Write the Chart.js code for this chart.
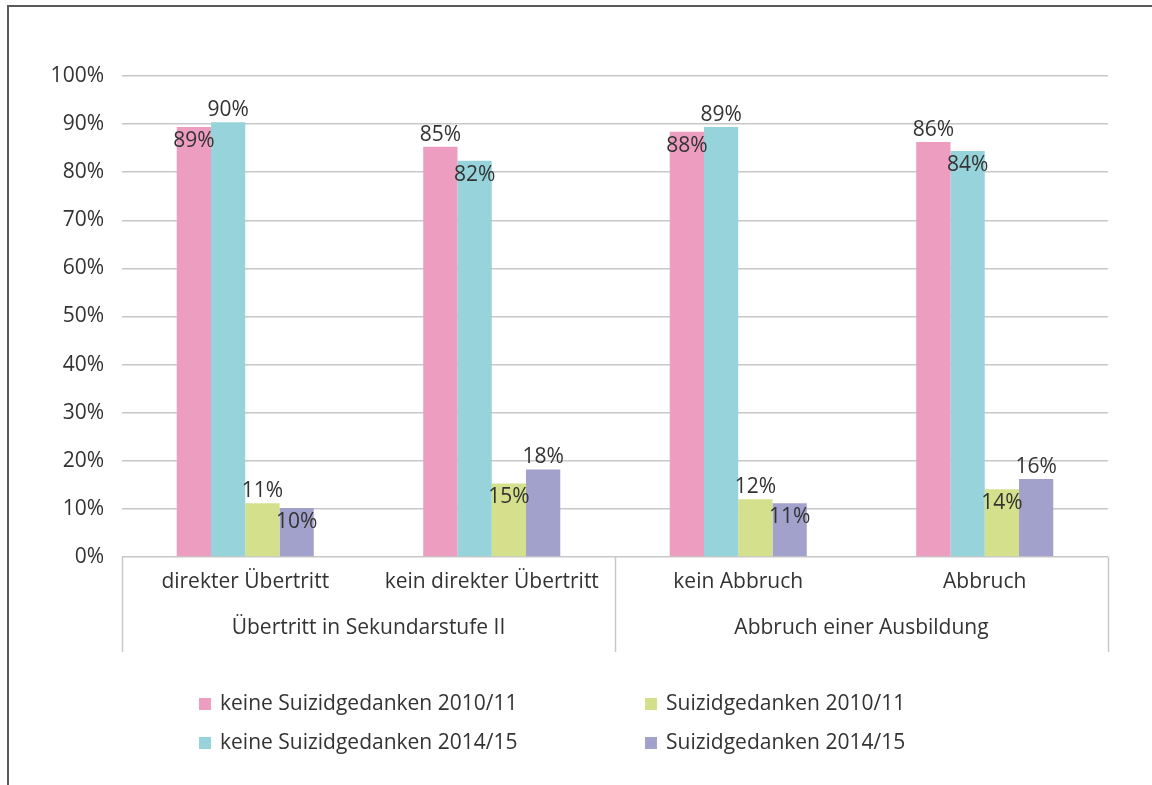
<!DOCTYPE html>
<html lang="de">
<head>
<meta charset="utf-8">
<title>Suizidgedanken nach Übertritt und Abbruch</title>
<script src="https://cdn.jsdelivr.net/npm/chart.js@4.4.1/dist/chart.umd.min.js"></script>
<style>
	html, body { margin: 0; padding: 0; background: #fff; }
	.chart-wrap { position: relative; width: 1152px; height: 785px; }
</style>
</head>
<body>
<div class="chart-wrap"><canvas id="suizid-chart"></canvas></div>
<script>
(function () {
	'use strict';

	const categories = ['direkter Übertritt', 'kein direkter Übertritt', 'kein Abbruch', 'Abbruch'];
	const categoryGroup = [0, 0, 1, 1];
	const groupLabels = ['Übertritt in Sekundarstufe II', 'Abbruch einer Ausbildung'];

	const seriesLabels = [
		'keine Suizidgedanken 2010/11',
		'keine Suizidgedanken 2014/15',
		'Suizidgedanken 2010/11',
		'Suizidgedanken 2014/15'
	];
	const keineSuizid201011 = [89.4, 85.3, 88.4, 86.3];
	const keineSuizid201415 = [90.4, 82.4, 89.4, 84.4];
	const suizid201011 = [11.2, 15.3, 12.0, 14.1];
	const suizid201415 = [10.2, 18.2, 11.2, 16.2];

	const yTicks = [0, 10, 20, 30, 40, 50, 60, 70, 80, 90, 100];

	const colors = ['#ec9dc0', '#96d3da', '#d4e08c', '#a2a1cb'];
	const textColor = '#333333';
	const gridColor = '#c8c8c8';
	const fontFamily = '"Open Sans", "Noto Sans", sans-serif';
	const fontSize = 21;

	// labels sit inside the bar top when its partner bar (same pair) is taller
	const labelPlugin = {
		id: 'barLabels',
		afterDatasetsDraw: function (chart) {
			const ctx = chart.ctx;
			const sets = chart.data.datasets;

			ctx.save();
			ctx.font = fontSize + 'px ' + fontFamily;
			ctx.fillStyle = textColor;
			ctx.textAlign = 'center';
			ctx.textBaseline = 'middle';

			sets.forEach(function (set, i) {
				const meta = chart.getDatasetMeta(i);
				const partner = sets[i % 2 === 0 ? i + 1 : i - 1];

				meta.data.forEach(function (bar, j) {
					const value = set.data[j];
					const inside = partner.data[j] > value;
					const y = inside ? bar.y + 14 : bar.y - 12;
					ctx.fillText(Math.round(value) + '%', bar.x, y);
				});
			});

			ctx.restore();
		}
	};

	const decorPlugin = {
		id: 'decor',
		afterDraw: function (chart) {
			const ctx = chart.ctx;
			const xScale = chart.scales.x;
			const top = xScale.top;
			const bottom = 652;

			ctx.save();

			// group separators
			const bounds = [xScale.left];
			for (let i = 1; i < categories.length; i++) {
				if (categoryGroup[i] !== categoryGroup[i - 1]) {
					bounds.push((xScale.getPixelForValue(i - 1) + xScale.getPixelForValue(i)) / 2);
				}
			}
			bounds.push(xScale.right);

			ctx.strokeStyle = gridColor;
			ctx.lineWidth = 1.5;
			bounds.forEach(function (x) {
				ctx.beginPath();
				ctx.moveTo(Math.round(x) + 0.5, top);
				ctx.lineTo(Math.round(x) + 0.5, bottom);
				ctx.stroke();
			});

			// group labels
			ctx.font = fontSize + 'px ' + fontFamily;
			ctx.fillStyle = textColor;
			ctx.textAlign = 'center';
			ctx.textBaseline = 'middle';
			groupLabels.forEach(function (label, g) {
				let sum = 0;
				let count = 0;
				categoryGroup.forEach(function (cg, i) {
					if (cg === g) {
						sum += xScale.getPixelForValue(i);
						count++;
					}
				});
				ctx.fillText(label, sum / count, 628);
			});

			// legend, two columns
			const legendCols = [199, 645];
			const legendRows = [704, 743];
			const box = 12;
			ctx.textAlign = 'left';
			chart.data.datasets.forEach(function (set, i) {
				const x = legendCols[Math.floor(i / 2)];
				const y = legendRows[i % 2];
				ctx.fillStyle = set.backgroundColor;
				ctx.fillRect(x, y - box / 2, box, box);
				ctx.fillStyle = textColor;
				ctx.fillText(set.label, x + box + 9, y);
			});

			// outer frame
			ctx.strokeStyle = '#5a5a5a';
			ctx.lineWidth = 2;
			ctx.beginPath();
			ctx.moveTo(chart.width, 6);
			ctx.lineTo(8, 6);
			ctx.lineTo(8, chart.height);
			ctx.stroke();

			ctx.restore();
		}
	};

	const seriesData = [keineSuizid201011, keineSuizid201415, suizid201011, suizid201415];

	new Chart(document.getElementById('suizid-chart'), {
		type: 'bar',
		data: {
			labels: categories,
			datasets: seriesData.map(function (values, i) {
				return {
					label: seriesLabels[i],
					data: values,
					backgroundColor: colors[i],
					borderWidth: 0,
					barPercentage: 1,
					categoryPercentage: 0.556
				};
			})
		},
		options: {
			responsive: true,
			maintainAspectRatio: false,
			animation: false,
			layout: { padding: { top: 76, right: 44, bottom: 0, left: 0 } },
			plugins: {
				legend: { display: false },
				tooltip: { enabled: false }
			},
			scales: {
				x: {
					grid: { display: false },
					border: { display: false },
					ticks: {
						color: textColor,
						font: { family: fontFamily, size: fontSize },
						maxRotation: 0,
						autoSkip: false,
						padding: 4
					},
					afterFit: function (scale) {
						scale.height = 228;
					}
				},
				y: {
					min: 0,
					max: 100,
					afterBuildTicks: function (scale) {
						scale.ticks = yTicks.map(function (v) { return { value: v }; });
					},
					grid: { color: gridColor, lineWidth: 1.5, drawTicks: false },
					border: { display: false },
					ticks: {
						color: textColor,
						font: { family: fontFamily, size: fontSize },
						padding: 18,
						callback: function (v) { return v + '%'; }
					},
					afterFit: function (scale) {
						scale.width = 122;
					}
				}
			}
		},
		plugins: [labelPlugin, decorPlugin]
	});
})();
</script>
</body>
</html>
